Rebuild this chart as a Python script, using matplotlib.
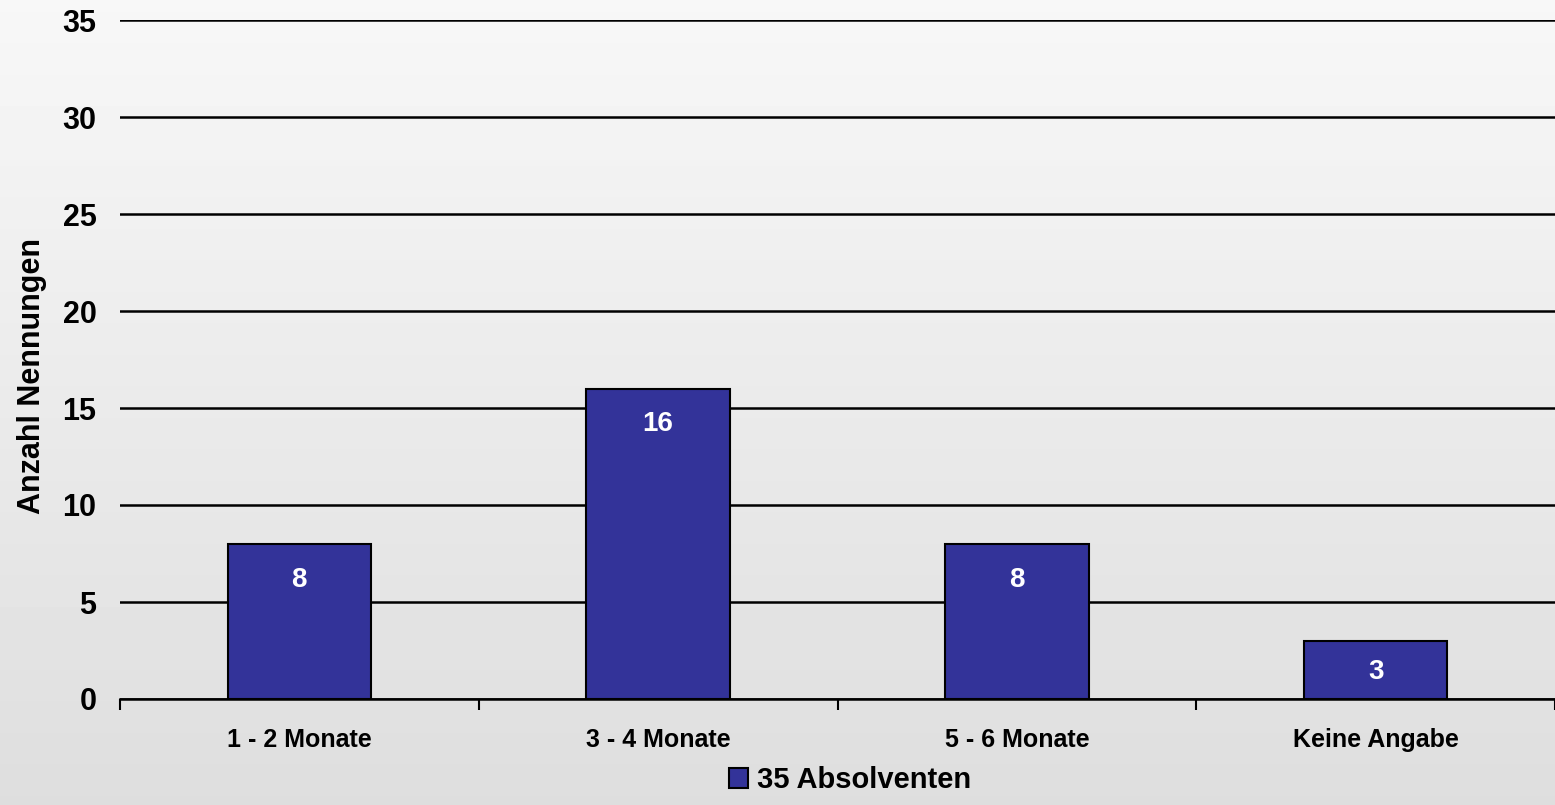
import numpy as np
import matplotlib
matplotlib.use("Agg")
import matplotlib.pyplot as plt

categories = ["1 - 2 Monate", "3 - 4 Monate", "5 - 6 Monate", "Keine Angabe"]
values = [8, 16, 8, 3]
series_name = "35 Absolventen"
y_ticks = [0, 5, 10, 15, 20, 25, 30, 35]

plt.rcParams['font.family'] = ['Liberation Sans', 'DejaVu Sans']
plt.rcParams['font.weight'] = 'bold'

fig = plt.figure(figsize=(15.55, 8.05), dpi=100)

# grey gradient background
bg = fig.add_axes([0, 0, 1, 1], zorder=-10)
grad = np.linspace(0.97, 0.87, 256).reshape(-1, 1)
bg.imshow(grad, cmap="gray", vmin=0, vmax=1, aspect="auto", extent=[0, 1, 0, 1])
bg.axis("off")

ax = fig.add_axes([120 / 1555, 1 - 699 / 805, 1 - 120 / 1555, 679 / 805])
ax.patch.set_alpha(0)

x = np.arange(len(categories))
bars = ax.bar(x, values, width=0.4, color="#333399", edgecolor="black", linewidth=1.5, zorder=3)
for b, v in zip(bars, values):
    # label near the top, but centred for short bars
    ax.text(b.get_x() + b.get_width() / 2, v - min(1.85, v / 2 + 0.1), str(v),
            ha="center", va="center", color="white", fontsize=20, fontweight="bold", zorder=4)

ax.set_ylim(0, 35)
ax.set_xlim(-0.5, len(categories) - 0.5)
ax.set_yticks(y_ticks)
ax.yaxis.grid(True, color="black", linewidth=1.8, zorder=1)
ax.set_axisbelow(True)
ax.tick_params(axis="y", length=0, pad=17, labelsize=22)
ax.set_xticks(x)
ax.set_xticklabels(categories, fontsize=18, fontweight="bold")
ax.tick_params(axis="x", which="major", length=0, pad=21)
ax.set_xticks(np.arange(-0.5, len(categories)), minor=True)
ax.tick_params(axis="x", which="minor", length=8, width=1.5, direction="out")

for s in ["left", "right", "top"]:
    ax.spines[s].set_visible(False)
ax.spines["bottom"].set_linewidth(1.8)

ax.set_ylabel("Anzahl Nennungen", fontsize=22, fontweight="bold")
ax.yaxis.set_label_coords(-0.051, 0.476)

fig.legend([bars], [series_name], loc="center", bbox_to_anchor=(0.5466, 0.031),
           frameon=False, handlelength=0.65, handleheight=0.65,
           handletextpad=0.3, prop={"weight": "bold", "size": 21})

fig.savefig("out.png", dpi=100)
